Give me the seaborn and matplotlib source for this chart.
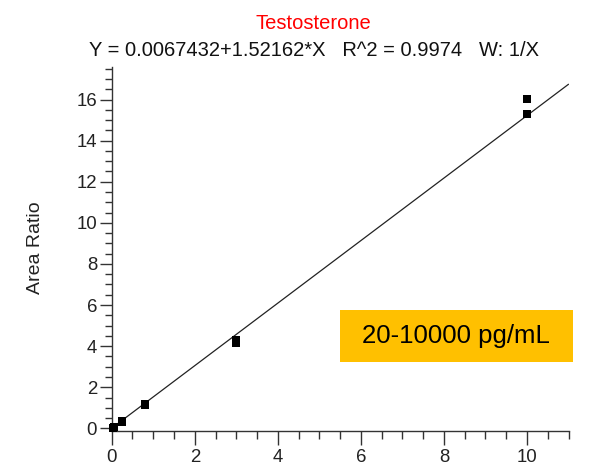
import matplotlib
matplotlib.use("Agg")
import matplotlib.pyplot as plt
import seaborn as sns
from matplotlib.ticker import MultipleLocator
from matplotlib.patches import Rectangle

# --- data ---
conc = [0.02, 0.02, 0.05, 0.05, 0.25, 0.25, 0.8, 0.8, 3.0, 3.0, 10.0, 10.0]
ratio = [0.03, 0.035, 0.07, 0.08, 0.33, 0.36, 1.15, 1.2, 4.13, 4.32, 15.32, 16.02]
intercept = 0.0067432
slope = 1.52162
fit_x = [0.0, 11.0]
fit_y = [intercept + slope * v for v in fit_x]

title_text = "Testosterone"
eq_text = "Y = 0.0067432+1.52162*X   R^2 = 0.9974   W: 1/X"
range_text = "20-10000 pg/mL"

sns.set_theme(style="ticks")
plt.rcParams["font.family"] = ["Liberation Sans", "DejaVu Sans"]

W, H = 616, 476
fig = plt.figure(figsize=(W / 100, H / 100), dpi=100)
fig.patch.set_facecolor("white")

ax = fig.add_axes([111.7 / W, 45 / H, (568.5 - 111.7) / W, (431 - 66.7) / H])
ax.set_facecolor("white")

sns.lineplot(x=fit_x, y=fit_y, ax=ax, color="#222222", linewidth=0.9)
sns.scatterplot(x=conc, y=ratio, ax=ax, marker="s", s=30, color="black",
                edgecolor="black", linewidth=0, zorder=3, clip_on=False)

ax.set_xlim(0, 11)
ax.set_ylim(-0.13, 17.6)
ax.xaxis.set_major_locator(MultipleLocator(2))
ax.xaxis.set_minor_locator(MultipleLocator(0.5))
ax.yaxis.set_major_locator(MultipleLocator(2))
ax.yaxis.set_minor_locator(MultipleLocator(0.5))
sns.despine(ax=ax)
for s in ["left", "bottom"]:
    ax.spines[s].set_linewidth(1.0)
    ax.spines[s].set_color("#333333")
ax.tick_params(axis="x", which="major", length=10, width=1.0, color="#333333",
               labelsize=13.4, labelcolor="#222222", pad=3)
ax.tick_params(axis="x", which="minor", length=6, width=1.0, color="#333333")
ax.tick_params(axis="y", which="major", length=9, width=1.0, color="#333333",
               labelsize=13.4, labelcolor="#222222", pad=1.5)
ax.tick_params(axis="y", which="minor", length=5, width=1.0, color="#333333")
ax.set_xlabel("")
ax.set_ylabel("")

fig.text(36 / W, 1 - 248 / H, "Area Ratio", rotation=90, ha="center", va="center",
         fontsize=14, color="#222222")
fig.text(313 / W, 1 - 29 / H, title_text, ha="center", va="baseline",
         fontsize=14.5, color="#ff0000")
fig.text(314 / W, 1 - 56 / H, eq_text, ha="center", va="baseline",
         fontsize=14.5, color="#111111")

fig.patches.append(Rectangle((340 / W, 1 - 362 / H), (573 - 340) / W, (362 - 310) / H,
                             transform=fig.transFigure, facecolor="#ffc000",
                             edgecolor="none", zorder=5))
fig.text(456 / W, 1 - 336 / H, range_text, ha="center", va="center",
         fontsize=18.5, color="black", zorder=6)

fig.savefig("out.png", dpi=100)
